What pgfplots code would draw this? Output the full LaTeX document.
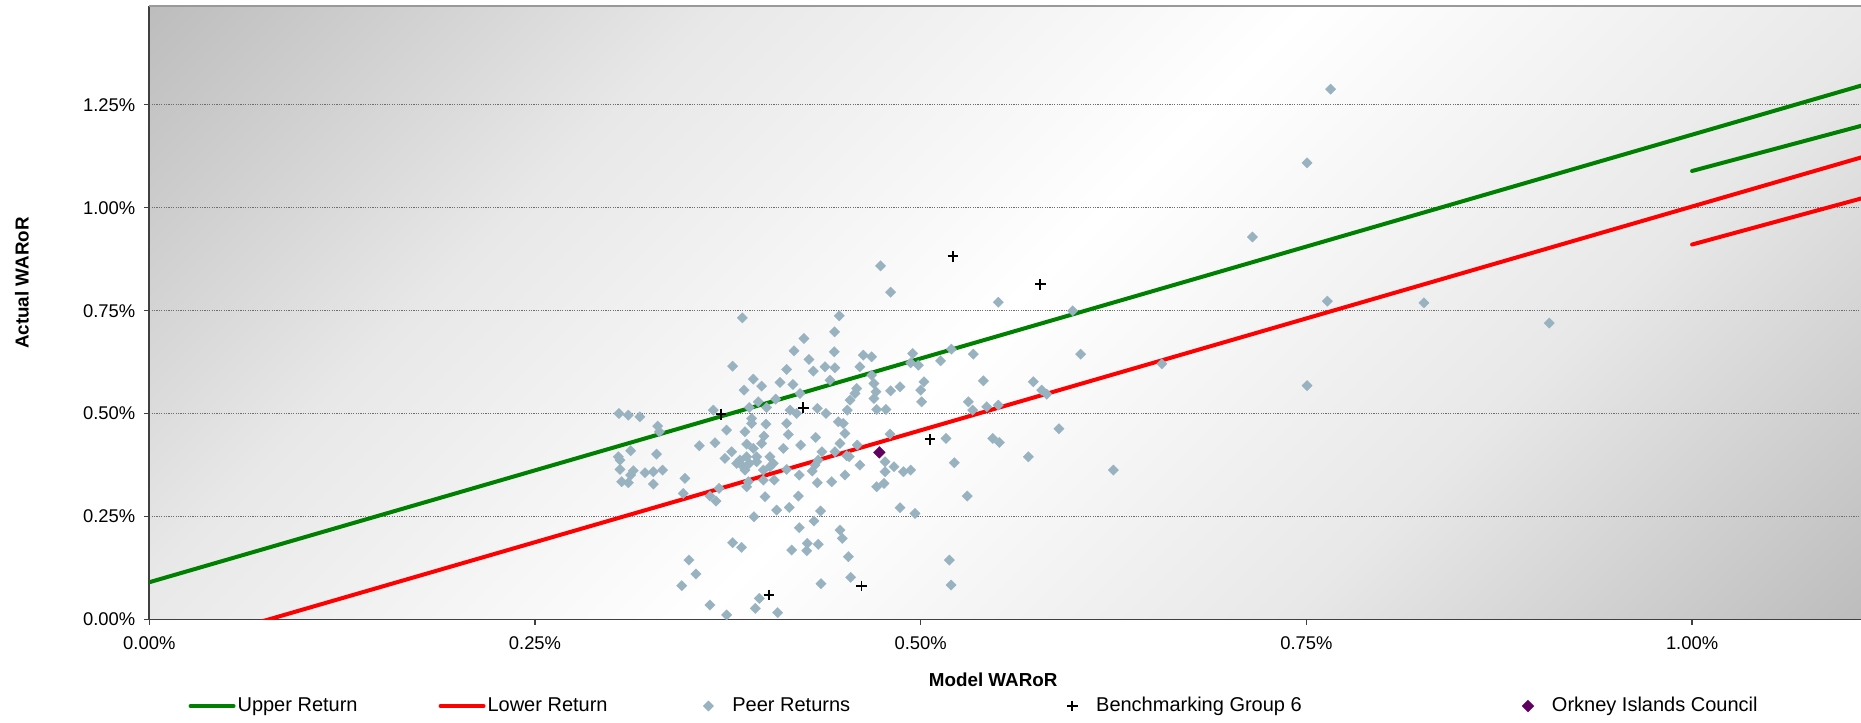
\documentclass[border=0pt]{standalone}
\usepackage{fontspec}
\setmainfont{Liberation Sans}
\usepackage{pgfplots}
\usepackage{pgfplotstable}
\pgfplotsset{compat=1.18}
\definecolor{upc}{RGB}{0,128,0}
\definecolor{loc}{RGB}{255,0,0}
\definecolor{peerc}{RGB}{152,178,192}
\definecolor{orkc}{RGB}{96,0,96}
\definecolor{bgc}{RGB}{189,189,189}
\definecolor{bgm}{RGB}{232,232,232}
\definecolor{axc}{RGB}{64,64,64}
\definecolor{gridc}{RGB}{110,110,110}
\pgfdeclareverticalshading{plotbg}{100bp}{color(0bp)=(bgc); color(14.6bp)=(bgc); color(32bp)=(bgm); color(50bp)=(white); color(68bp)=(bgm); color(85.4bp)=(bgc); color(100bp)=(bgc)}
\pgfplotsset{
  lineleg/.style={legend image code/.code={\draw[##1] (0pt,0pt) -- (21.5pt,0pt);}},
  markleg/.style={legend image code/.code={\path (0pt,0pt) (21.5pt,0pt); \draw[##1] plot coordinates {(10.75pt,0pt)};}},
}

\pgfplotstableread{
x y
0.3844 0.7326
0.4472 0.7375
0.4442 0.6986
0.4243 0.6825
0.4179 0.6525
0.4440 0.6501
0.4276 0.6315
0.4628 0.6420
0.4606 0.6137
0.3781 0.6153
0.4131 0.6072
0.4304 0.6032
0.4380 0.6137
0.4444 0.6113
0.3915 0.5837
0.3969 0.5668
0.4088 0.5757
0.4172 0.5708
0.4412 0.5813
0.3855 0.5571
0.4218 0.5490
0.4585 0.5611
0.4574 0.5490
0.4542 0.5328
0.3947 0.5287
0.4060 0.5352
0.4001 0.5150
0.3889 0.5150
0.3656 0.5085
0.4153 0.5085
0.4196 0.5004
0.4330 0.5126
0.4386 0.5004
0.4524 0.5085
0.3044 0.5004
0.3105 0.4964
0.3180 0.4923
0.3904 0.4883
0.3904 0.4762
0.3997 0.4745
0.4131 0.4762
0.4466 0.4802
0.4498 0.4762
0.3295 0.4697
0.3306 0.4559
0.3742 0.4600
0.3861 0.4559
0.4142 0.4494
0.4509 0.4519
0.3565 0.4219
0.3667 0.4292
0.3872 0.4260
0.3915 0.4155
0.3969 0.4276
0.3984 0.4454
0.4110 0.4155
0.4222 0.4236
0.4319 0.4422
0.4360 0.4074
0.4477 0.4276
0.4589 0.4236
0.3120 0.4098
0.3288 0.4017
0.3040 0.3953
0.3051 0.3872
0.3775 0.4074
0.3731 0.3912
0.3829 0.3872
0.3872 0.3953
0.3937 0.3953
0.3889 0.3791
0.3850 0.3710
0.3807 0.3791
0.4023 0.3953
0.4045 0.3791
0.3937 0.3831
0.4444 0.4074
0.4520 0.3977
0.4537 0.3953
0.4336 0.3872
0.4315 0.3750
0.4606 0.3750
0.3051 0.3645
0.3137 0.3613
0.3213 0.3564
0.3267 0.3588
0.3327 0.3629
0.3120 0.3508
0.3062 0.3346
0.3105 0.3321
0.3267 0.3289
0.3472 0.3427
0.3861 0.3629
0.3980 0.3629
0.4023 0.3710
0.4131 0.3645
0.4213 0.3508
0.4297 0.3605
0.3980 0.3386
0.4051 0.3386
0.3872 0.3224
0.3883 0.3346
0.4330 0.3321
0.4423 0.3346
0.4509 0.3508
0.3461 0.3062
0.3634 0.2998
0.3673 0.2876
0.3693 0.3184
0.3991 0.2982
0.4207 0.2998
0.4066 0.2658
0.4148 0.2723
0.4351 0.2634
0.3919 0.2496
0.4213 0.2229
0.4308 0.2391
0.4477 0.2172
0.4492 0.1970
0.3781 0.1865
0.3839 0.1752
0.4164 0.1687
0.4265 0.1849
0.4261 0.1671
0.4336 0.1825
0.4531 0.1525
0.3498 0.1444
0.3543 0.1105
0.3451 0.0821
0.4354 0.0870
0.4546 0.1024
0.3954 0.0514
0.3634 0.0352
0.3928 0.0271
0.3742 0.0110
0.4073 0.0166
0.4740 0.8588
0.4805 0.7949
0.5503 0.7706
0.5985 0.7496
0.4682 0.6380
0.4948 0.6460
0.4935 0.6234
0.4985 0.6177
0.5129 0.6282
0.5199 0.6566
0.5341 0.6444
0.6037 0.6444
0.4682 0.5935
0.4697 0.5732
0.4710 0.5530
0.4697 0.5368
0.4805 0.5554
0.4866 0.5651
0.5021 0.5773
0.5000 0.5571
0.5006 0.5287
0.5406 0.5797
0.5730 0.5773
0.5784 0.5571
0.5817 0.5473
0.4715 0.5101
0.4775 0.5101
0.5309 0.5287
0.5337 0.5085
0.5428 0.5166
0.5503 0.5206
0.4801 0.4503
0.5164 0.4397
0.5467 0.4397
0.5510 0.4300
0.5896 0.4632
0.4769 0.3831
0.4827 0.3710
0.4888 0.3588
0.4935 0.3629
0.5218 0.3807
0.5698 0.3952
0.6249 0.3629
0.4715 0.3224
0.4762 0.3305
0.4769 0.3588
0.4866 0.2715
0.4963 0.2577
0.5302 0.2998
0.5186 0.1444
0.5197 0.0837
0.7657 1.2880
0.7504 1.1090
0.7150 0.9290
0.7636 0.7730
0.8262 0.7690
0.9074 0.7200
0.7504 0.5680
0.6563 0.6210
}\peertable

\pgfplotstableread{
x y
0.3706 0.4988
0.4239 0.5142
0.4017 0.0595
0.4617 0.0813
0.5209 0.8823
0.5775 0.8143
0.5060 0.4381
}\benchtable

\pgfplotstableread{
x y
0.4732 0.4058
}\orktable

\begin{document}
\begin{tikzpicture}
\begin{axis}[
  at={(0pt,0pt)}, anchor=south west,
  scale only axis, width=855.85pt, height=306.75pt,
  xmin=0, xmax=1.1095, ymin=0, ymax=1.49,
  axis x line*=bottom, axis y line*=left,
  axis line style={draw=axc, line width=0.8pt},
  xtick={0,0.25,0.5,0.75,1},
  ytick={0,0.25,0.5,0.75,1,1.25},
  tick align=outside, major tick length=2.5pt,
  tick style={draw=axc, line width=0.6pt},
  ymajorgrids,
  major grid style={draw=gridc, line width=0.5pt, dash pattern=on 0.6pt off 0.6pt},
  xticklabel={\pgfmathprintnumber[assume math mode=true,fixed,fixed zerofill,precision=2]{\tick}\%},
  yticklabel={\pgfmathprintnumber[assume math mode=true,fixed,fixed zerofill,precision=2]{\tick}\%},
  ticklabel style={font=\fontsize{9.2}{11}\selectfont, text=black},
  xticklabel style={yshift=-2.5pt},
  yticklabel style={xshift=-1pt},
  xlabel={Model WARoR}, ylabel={Actual WARoR},
  label style={font=\bfseries\fontsize{9.4}{11}\selectfont},
  xlabel style={at={(axis description cs:0.493,-0.0985)}, anchor=center},
  ylabel style={at={(axis description cs:-0.0744,0.5485)}, anchor=center},
  axis background/.style={shading=plotbg, shading angle=45},
  after end axis/.code={\draw[gray!80, line width=0.6pt] (rel axis cs:0,1) -- (rel axis cs:1,1);},
  legend columns=5,
  legend style={at={(0.0227,-0.141)}, anchor=west, draw=none, fill=none,
    inner sep=0pt, /tikz/column sep=0pt,
    font=\fontsize{10}{12}\selectfont,
    nodes={inner xsep=1pt, inner ysep=0pt, anchor=west}},
]
\addplot[upc, line width=2pt, line cap=round, lineleg]
  coordinates {(0,0.0905) (1.2,1.3949)};
\addlegendentry{\makebox[99.5pt][l]{Upper Return}}
\addplot[loc, line width=2pt, line cap=round, lineleg]
  coordinates {(0,-0.084) (1.2,1.2204)};
\addlegendentry{\makebox[98.5pt][l]{Lower Return}}
\addplot[upc, line width=2pt, line cap=round, forget plot]
  coordinates {(1.0,1.0893) (1.2,1.2893)};
\addplot[loc, line width=2pt, line cap=round, forget plot]
  coordinates {(1.0,0.9107) (1.2,1.1147)};
\addplot[only marks, mark=square*, mark size=1.85pt,
  mark options={rotate=45, fill=peerc, draw=peerc, line width=0.1pt}, markleg]
  table[x=x,y=y] {\peertable};
\addlegendentry{\makebox[158pt][l]{Peer Returns}}
\addplot[only marks, mark=+, mark size=2.7pt,
  mark options={draw=black, line width=0.85pt}, markleg]
  table[x=x,y=y] {\benchtable};
\addlegendentry{\makebox[204pt][l]{Benchmarking Group 6}}
\addplot[only marks, mark=square*, mark size=2.1pt,
  mark options={rotate=45, fill=orkc, draw=orkc, line width=0.1pt}, markleg]
  table[x=x,y=y] {\orktable};
\addlegendentry{Orkney Islands Council}
\end{axis}
\pgfresetboundingbox
\useasboundingbox (-74.65pt,-51.25pt) rectangle (855.85pt,309.75pt);
\end{tikzpicture}
\end{document}
